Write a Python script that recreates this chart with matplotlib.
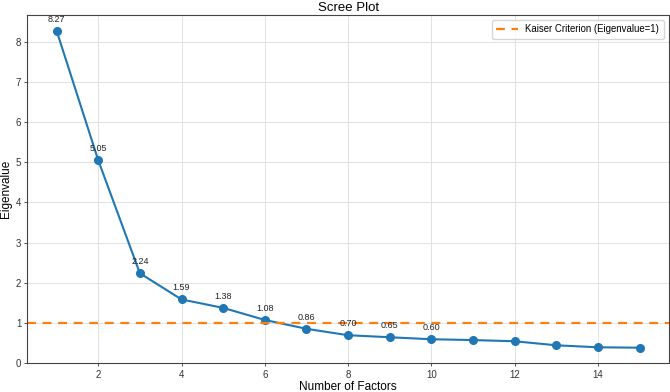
import numpy as np
import matplotlib.pyplot as plt

plt.rcParams['font.family'] = ['Liberation Sans', 'DejaVu Sans']

# eigenvalues
factors = np.arange(1, 16)
eigenvalues = [8.27, 5.05, 2.24, 1.59, 1.38, 1.08, 0.86, 0.70, 0.65, 0.60,
               0.58, 0.55, 0.45, 0.40, 0.39]
n_labeled = 10
kaiser_level = 1

fig, ax = plt.subplots(figsize=(6.7, 3.92), dpi=100)

ax.plot(factors, eigenvalues, color='#1f77b4', marker='o', markersize=5.5,
        linewidth=1.5)
ax.axhline(kaiser_level, color='#ff7f0e', linestyle='--', linewidth=1.6,
           dashes=(4, 3), label='Kaiser Criterion (Eigenvalue=1)')

for f, ev in zip(factors[:n_labeled], eigenvalues[:n_labeled]):
    ax.annotate(f'{ev:.2f}', (f, ev), xytext=(0, 6.5), textcoords='offset points',
                ha='center', fontsize=6.5, color='#222222')

ax.set_ylim(bottom=0)
ax.set_title('Scree Plot', fontsize=9.5, pad=3)
ax.set_xlabel('Number of Factors', fontsize=8.5, labelpad=1)
ax.set_ylabel('Eigenvalue', fontsize=8.5, labelpad=3)
ax.tick_params(labelsize=7, length=2.5, width=0.6, pad=2, colors='#333333')
ax.grid(True, color='#e2e2e2', linewidth=0.7)
ax.set_axisbelow(True)
for s in ax.spines.values():
    s.set_color('#444444')
    s.set_linewidth(0.8)

ax.legend(loc='upper right', fontsize=6.9, frameon=True, edgecolor='#cccccc',
          handlelength=2.2, borderpad=0.5)

fig.subplots_adjust(left=0.041, right=0.998, top=0.962, bottom=0.073)
fig.savefig('out.png')
